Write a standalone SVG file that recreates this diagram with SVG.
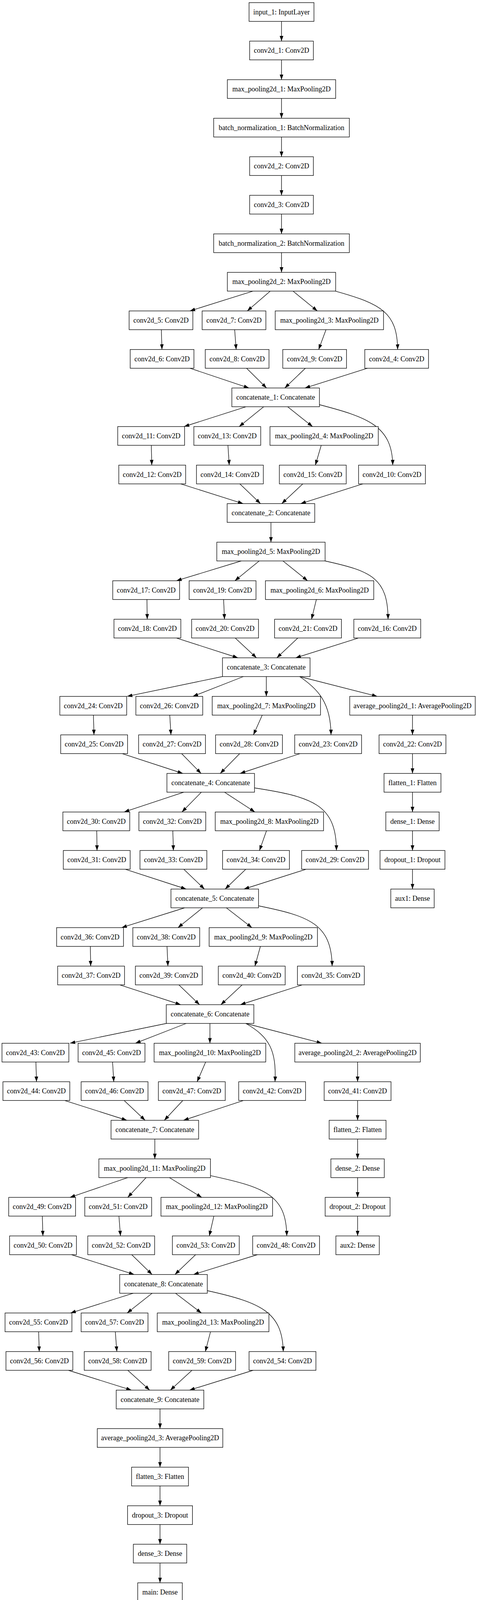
<svg xmlns="http://www.w3.org/2000/svg" width="1220" height="4107" viewBox="0 0 1220 4107">
<style>
rect.n{fill:#fff;stroke:#000;stroke-width:1.33}
text{font-family:"Liberation Serif","Times New Roman",serif;font-size:18px;fill:#000;text-anchor:middle}
#edges path{fill:none;stroke:#000;stroke-width:1.33;marker-end:url(#ah)}
</style>
<defs>
<marker id="ah" markerUnits="userSpaceOnUse" markerWidth="14" markerHeight="10" refX="13.3" refY="4.67" orient="auto"><path d="M0,0 L13.3,4.67 L0,9.33 z" fill="#000"/></marker>
</defs>
<rect x="0" y="0" width="1220" height="4107" fill="#fff"/>
<g id="edges">
<path d="M720,54.7 L720,105.3"/>
<path d="M720,153.3 L720,204"/>
<path d="M720,252 L720,302.7"/>
<path d="M720,350.7 L720,401.3"/>
<path d="M720,449.3 L720,500"/>
<path d="M720,548 L720,598.7"/>
<path d="M720,646.7 L720,697.3"/>
<path d="M646.8,745.3 L485.8,796"/>
<path d="M691.2,745.3 L632.4,796"/>
<path d="M749.4,745.3 L811.6,796"/>
<path d="M858,745.3 C975,778 1016,800 1017,894.7"/>
<path d="M412.6,844 L414.3,894.7"/>
<path d="M600.2,844 L604,894.7"/>
<path d="M833.8,844 L815,894.7"/>
<path d="M485.8,942.7 L636.8,993.3"/>
<path d="M630.7,942.7 L681.7,993.3"/>
<path d="M781,942.7 L728.4,993.3"/>
<path d="M939.8,942.7 L780,993.3"/>
<path d="M629,1041.3 L470.9,1092"/>
<path d="M674.5,1041.3 L611.8,1092"/>
<path d="M735.6,1041.3 L799.4,1092"/>
<path d="M817,1036 C940,1068 1003,1090 1004.5,1190.7"/>
<path d="M387,1140 L388.2,1190.7"/>
<path d="M583,1140 L586.3,1190.7"/>
<path d="M821.6,1140 L806.6,1190.7"/>
<path d="M462,1238.7 L621.8,1289.3"/>
<path d="M613.5,1238.7 L666.2,1289.3"/>
<path d="M774.4,1238.7 L720.6,1289.3"/>
<path d="M928.2,1238.7 L768.9,1289.3"/>
<path d="M693,1337.3 L693,1388"/>
<path d="M617,1436 L451.3,1486.7"/>
<path d="M663,1436 L600.7,1486.7"/>
<path d="M723.6,1436 L786.7,1486.7"/>
<path d="M831,1436 C950,1462 992,1480 992.5,1585.3"/>
<path d="M375.8,1534.7 L376.6,1585.3"/>
<path d="M571.9,1534.7 L574.2,1585.3"/>
<path d="M809.2,1534.7 L796.8,1585.3"/>
<path d="M451.3,1633.3 L608.5,1684"/>
<path d="M601.5,1633.3 L656,1684"/>
<path d="M761.8,1633.3 L708,1684"/>
<path d="M916.6,1633.3 L756.3,1684"/>
<path d="M568.8,1732 L325.2,1782.7"/>
<path d="M622.5,1732 L493.3,1782.7"/>
<path d="M681.2,1732 L681.2,1782.7"/>
<path d="M766.4,1732 L964.8,1782.7"/>
<path d="M766.4,1732 C815,1765 846,1800 846.6,1881.3"/>
<path d="M238.9,1830.7 L240.4,1881.3"/>
<path d="M434.2,1830.7 L437.3,1881.3"/>
<path d="M670.7,1830.7 L648.2,1881.3"/>
<path d="M1055,1830.7 L1055,1881.3"/>
<path d="M312.8,1929.3 L467.6,1980"/>
<path d="M464.5,1929.3 L514.3,1980"/>
<path d="M613.1,1929.3 L563.3,1980"/>
<path d="M767.2,1929.3 L614,1980"/>
<path d="M1055,1929.3 L1055,1980"/>
<path d="M470,2028 L317.5,2078.7"/>
<path d="M515,2028 L465.3,2078.7"/>
<path d="M574.2,2028 L652,2078.7"/>
<path d="M650.5,2017 C800,2040 860,2060 860.5,2177.3"/>
<path d="M1055,2028 L1055,2078.7"/>
<path d="M247.4,2126.7 L248.2,2177.3"/>
<path d="M442,2126.7 L443.5,2177.3"/>
<path d="M681.6,2126.7 L663.7,2177.3"/>
<path d="M1055,2126.7 L1055,2177.3"/>
<path d="M320.6,2225.3 L476.2,2276"/>
<path d="M470,2225.3 L522.9,2276"/>
<path d="M628.7,2225.3 L575.8,2276"/>
<path d="M782.8,2225.3 L624,2276"/>
<path d="M1055,2225.3 L1055,2276"/>
<path d="M472.3,2324 L311.2,2374.7"/>
<path d="M518.2,2324 L455.2,2374.7"/>
<path d="M578.9,2324 L644.3,2374.7"/>
<path d="M661.4,2319 C790,2345 848,2365 849.5,2473.3"/>
<path d="M231.1,2422.7 L231.9,2473.3"/>
<path d="M427.2,2422.7 L429.5,2473.3"/>
<path d="M666,2422.7 L652,2473.3"/>
<path d="M306.6,2521.3 L462.2,2572"/>
<path d="M457.5,2521.3 L510.4,2572"/>
<path d="M619.4,2521.3 L564.9,2572"/>
<path d="M772.7,2521.3 L614.7,2572"/>
<path d="M425.6,2620 L179,2670.7"/>
<path d="M476.2,2620 L346.3,2670.7"/>
<path d="M536.9,2620 L536.9,2670.7"/>
<path d="M628.7,2620 L823.2,2670.7"/>
<path d="M628.7,2620 C690,2655 707,2690 703.4,2769.3"/>
<path d="M91.8,2718.7 L93.4,2769.3"/>
<path d="M287.9,2718.7 L291,2769.3"/>
<path d="M526,2718.7 L504.2,2769.3"/>
<path d="M914.6,2718.7 L914.6,2769.3"/>
<path d="M165.7,2817.3 L324.5,2868"/>
<path d="M317.5,2817.3 L371.2,2868"/>
<path d="M467.6,2817.3 L420.2,2868"/>
<path d="M622.5,2817.3 L469.2,2868"/>
<path d="M914.6,2817.3 L914.6,2868"/>
<path d="M396,2916 L396,2966.7"/>
<path d="M914.6,2916 L914.6,2966.7"/>
<path d="M326.8,3014.7 L179,3065.3"/>
<path d="M373.5,3014.7 L326.8,3065.3"/>
<path d="M433.4,3014.7 L515.9,3065.3"/>
<path d="M538.4,3009.6 C680,3040 732,3060 733.5,3164"/>
<path d="M914.6,3014.7 L914.6,3065.3"/>
<path d="M108.2,3113.3 L109.7,3164"/>
<path d="M304.2,3113.3 L308.1,3164"/>
<path d="M547,3113.3 L535.3,3164"/>
<path d="M914.6,3113.3 L914.6,3164"/>
<path d="M182.9,3212 L343.1,3262.7"/>
<path d="M336.9,3212 L389,3262.7"/>
<path d="M500.3,3212 L447.4,3262.7"/>
<path d="M658.3,3212 L494.9,3262.7"/>
<path d="M340.8,3310.7 L180.5,3361.3"/>
<path d="M389,3310.7 L325.2,3361.3"/>
<path d="M449,3310.7 L515.1,3361.3"/>
<path d="M529.9,3304 C670,3335 722,3360 724.5,3460"/>
<path d="M98.8,3409.3 L100.4,3460"/>
<path d="M294.9,3409.3 L298.8,3460"/>
<path d="M538.4,3409.3 L525.2,3460"/>
<path d="M175,3508 L336.1,3558.7"/>
<path d="M326.8,3508 L382.8,3558.7"/>
<path d="M491,3508 L435.7,3558.7"/>
<path d="M647.4,3508 L484.7,3558.7"/>
<path d="M409.3,3606.7 L409.3,3657.3"/>
<path d="M409.3,3705.3 L409.3,3756"/>
<path d="M409.3,3804 L409.3,3854.7"/>
<path d="M409.3,3902.7 L409.3,3953.3"/>
<path d="M409.3,4001.3 L409.3,4052"/>
</g>
<g id="input_1"><rect class="n" x="637" y="6.7" width="166" height="48"/><text x="720" y="36.7">input_1: InputLayer</text></g>
<g id="conv2d_1"><rect class="n" x="638.5" y="105.3" width="163" height="48"/><text x="720" y="135.3">conv2d_1: Conv2D</text></g>
<g id="max_pooling2d_1"><rect class="n" x="581.5" y="204" width="277" height="48"/><text x="720" y="234">max_pooling2d_1: MaxPooling2D</text></g>
<g id="batch_normalization_1"><rect class="n" x="546.5" y="302.7" width="347" height="48"/><text x="720" y="332.7">batch_normalization_1: BatchNormalization</text></g>
<g id="conv2d_2"><rect class="n" x="638.5" y="401.3" width="163" height="48"/><text x="720" y="431.3">conv2d_2: Conv2D</text></g>
<g id="conv2d_3"><rect class="n" x="638.5" y="500" width="163" height="48"/><text x="720" y="530">conv2d_3: Conv2D</text></g>
<g id="batch_normalization_2"><rect class="n" x="546.5" y="598.7" width="347" height="48"/><text x="720" y="628.7">batch_normalization_2: BatchNormalization</text></g>
<g id="max_pooling2d_2"><rect class="n" x="581.5" y="697.3" width="277" height="48"/><text x="720" y="727.3">max_pooling2d_2: MaxPooling2D</text></g>
<g id="conv2d_5"><rect class="n" x="330.3" y="796" width="163" height="48"/><text x="411.8" y="826">conv2d_5: Conv2D</text></g>
<g id="conv2d_7"><rect class="n" x="517" y="796" width="163" height="48"/><text x="598.5" y="826">conv2d_7: Conv2D</text></g>
<g id="max_pooling2d_3"><rect class="n" x="703.9" y="796" width="277" height="48"/><text x="842.4" y="826">max_pooling2d_3: MaxPooling2D</text></g>
<g id="conv2d_6"><rect class="n" x="333" y="894.7" width="163" height="48"/><text x="414.5" y="924.7">conv2d_6: Conv2D</text></g>
<g id="conv2d_8"><rect class="n" x="525" y="894.7" width="163" height="48"/><text x="606.5" y="924.7">conv2d_8: Conv2D</text></g>
<g id="conv2d_9"><rect class="n" x="723.3" y="894.7" width="163" height="48"/><text x="804.8" y="924.7">conv2d_9: Conv2D</text></g>
<g id="conv2d_4"><rect class="n" x="933" y="894.7" width="163" height="48"/><text x="1014.5" y="924.7">conv2d_4: Conv2D</text></g>
<g id="concatenate_1"><rect class="n" x="593" y="993.3" width="224" height="48"/><text x="705" y="1023.3">concatenate_1: Concatenate</text></g>
<g id="conv2d_11"><rect class="n" x="301.1" y="1092" width="171" height="48"/><text x="386.6" y="1122">conv2d_11: Conv2D</text></g>
<g id="conv2d_13"><rect class="n" x="495.8" y="1092" width="171" height="48"/><text x="581.3" y="1122">conv2d_13: Conv2D</text></g>
<g id="max_pooling2d_4"><rect class="n" x="690.5" y="1092" width="277" height="48"/><text x="829" y="1122">max_pooling2d_4: MaxPooling2D</text></g>
<g id="conv2d_12"><rect class="n" x="303.8" y="1190.7" width="171" height="48"/><text x="389.3" y="1220.7">conv2d_12: Conv2D</text></g>
<g id="conv2d_14"><rect class="n" x="502.5" y="1190.7" width="171" height="48"/><text x="588" y="1220.7">conv2d_14: Conv2D</text></g>
<g id="conv2d_15"><rect class="n" x="714.5" y="1190.7" width="171" height="48"/><text x="800" y="1220.7">conv2d_15: Conv2D</text></g>
<g id="conv2d_10"><rect class="n" x="917.1" y="1190.7" width="171" height="48"/><text x="1002.6" y="1220.7">conv2d_10: Conv2D</text></g>
<g id="concatenate_2"><rect class="n" x="581" y="1289.3" width="224" height="48"/><text x="693" y="1319.3">concatenate_2: Concatenate</text></g>
<g id="max_pooling2d_5"><rect class="n" x="554.5" y="1388" width="277" height="48"/><text x="693" y="1418">max_pooling2d_5: MaxPooling2D</text></g>
<g id="conv2d_17"><rect class="n" x="288.4" y="1486.7" width="171" height="48"/><text x="373.9" y="1516.7">conv2d_17: Conv2D</text></g>
<g id="conv2d_19"><rect class="n" x="483.7" y="1486.7" width="171" height="48"/><text x="569.2" y="1516.7">conv2d_19: Conv2D</text></g>
<g id="max_pooling2d_6"><rect class="n" x="678.9" y="1486.7" width="277" height="48"/><text x="817.4" y="1516.7">max_pooling2d_6: MaxPooling2D</text></g>
<g id="conv2d_18"><rect class="n" x="291.5" y="1585.3" width="171" height="48"/><text x="377" y="1615.3">conv2d_18: Conv2D</text></g>
<g id="conv2d_20"><rect class="n" x="490.2" y="1585.3" width="171" height="48"/><text x="575.7" y="1615.3">conv2d_20: Conv2D</text></g>
<g id="conv2d_21"><rect class="n" x="702.3" y="1585.3" width="171" height="48"/><text x="787.8" y="1615.3">conv2d_21: Conv2D</text></g>
<g id="conv2d_16"><rect class="n" x="905" y="1585.3" width="171" height="48"/><text x="990.5" y="1615.3">conv2d_16: Conv2D</text></g>
<g id="concatenate_3"><rect class="n" x="569" y="1684" width="224" height="48"/><text x="681" y="1714">concatenate_3: Concatenate</text></g>
<g id="conv2d_24"><rect class="n" x="153" y="1782.7" width="171" height="48"/><text x="238.5" y="1812.7">conv2d_24: Conv2D</text></g>
<g id="conv2d_26"><rect class="n" x="347.5" y="1782.7" width="171" height="48"/><text x="433" y="1812.7">conv2d_26: Conv2D</text></g>
<g id="max_pooling2d_7"><rect class="n" x="542.7" y="1782.7" width="277" height="48"/><text x="681.2" y="1812.7">max_pooling2d_7: MaxPooling2D</text></g>
<g id="average_pooling2d_1"><rect class="n" x="894.5" y="1782.7" width="321" height="48"/><text x="1055" y="1812.7">average_pooling2d_1: AveragePooling2D</text></g>
<g id="conv2d_25"><rect class="n" x="155.3" y="1881.3" width="171" height="48"/><text x="240.8" y="1911.3">conv2d_25: Conv2D</text></g>
<g id="conv2d_27"><rect class="n" x="354.5" y="1881.3" width="171" height="48"/><text x="440" y="1911.3">conv2d_27: Conv2D</text></g>
<g id="conv2d_28"><rect class="n" x="551.4" y="1881.3" width="171" height="48"/><text x="636.9" y="1911.3">conv2d_28: Conv2D</text></g>
<g id="conv2d_23"><rect class="n" x="753.7" y="1881.3" width="171" height="48"/><text x="839.2" y="1911.3">conv2d_23: Conv2D</text></g>
<g id="conv2d_22"><rect class="n" x="969.5" y="1881.3" width="171" height="48"/><text x="1055" y="1911.3">conv2d_22: Conv2D</text></g>
<g id="concatenate_4"><rect class="n" x="426.9" y="1980" width="224" height="48"/><text x="538.9" y="2010">concatenate_4: Concatenate</text></g>
<g id="flatten_1"><rect class="n" x="982.25" y="1980" width="145.5" height="48"/><text x="1055" y="2010">flatten_1: Flatten</text></g>
<g id="conv2d_30"><rect class="n" x="160.8" y="2078.7" width="171" height="48"/><text x="246.3" y="2108.7">conv2d_30: Conv2D</text></g>
<g id="conv2d_32"><rect class="n" x="355.3" y="2078.7" width="171" height="48"/><text x="440.8" y="2108.7">conv2d_32: Conv2D</text></g>
<g id="max_pooling2d_8"><rect class="n" x="550.5" y="2078.7" width="277" height="48"/><text x="689" y="2108.7">max_pooling2d_8: MaxPooling2D</text></g>
<g id="dense_1"><rect class="n" x="986.75" y="2078.7" width="136.5" height="48"/><text x="1055" y="2108.7">dense_1: Dense</text></g>
<g id="conv2d_31"><rect class="n" x="161.9" y="2177.3" width="171" height="48"/><text x="247.4" y="2207.3">conv2d_31: Conv2D</text></g>
<g id="conv2d_33"><rect class="n" x="358" y="2177.3" width="171" height="48"/><text x="443.5" y="2207.3">conv2d_33: Conv2D</text></g>
<g id="conv2d_34"><rect class="n" x="569.3" y="2177.3" width="171" height="48"/><text x="654.8" y="2207.3">conv2d_34: Conv2D</text></g>
<g id="conv2d_29"><rect class="n" x="771.5" y="2177.3" width="171" height="48"/><text x="857" y="2207.3">conv2d_29: Conv2D</text></g>
<g id="dropout_1"><rect class="n" x="972" y="2177.3" width="166" height="48"/><text x="1055" y="2207.3">dropout_1: Dropout</text></g>
<g id="concatenate_5"><rect class="n" x="437.3" y="2276" width="224" height="48"/><text x="549.3" y="2306">concatenate_5: Concatenate</text></g>
<g id="aux1"><rect class="n" x="999.5" y="2276" width="111" height="48"/><text x="1055" y="2306">aux1: Dense</text></g>
<g id="conv2d_36"><rect class="n" x="144.8" y="2374.7" width="171" height="48"/><text x="230.3" y="2404.7">conv2d_36: Conv2D</text></g>
<g id="conv2d_38"><rect class="n" x="339.7" y="2374.7" width="171" height="48"/><text x="425.2" y="2404.7">conv2d_38: Conv2D</text></g>
<g id="max_pooling2d_9"><rect class="n" x="534.9" y="2374.7" width="277" height="48"/><text x="673.4" y="2404.7">max_pooling2d_9: MaxPooling2D</text></g>
<g id="conv2d_37"><rect class="n" x="147.5" y="2473.3" width="171" height="48"/><text x="233" y="2503.3">conv2d_37: Conv2D</text></g>
<g id="conv2d_39"><rect class="n" x="346.3" y="2473.3" width="171" height="48"/><text x="431.8" y="2503.3">conv2d_39: Conv2D</text></g>
<g id="conv2d_40"><rect class="n" x="558.4" y="2473.3" width="171" height="48"/><text x="643.9" y="2503.3">conv2d_40: Conv2D</text></g>
<g id="conv2d_35"><rect class="n" x="760.7" y="2473.3" width="171" height="48"/><text x="846.2" y="2503.3">conv2d_35: Conv2D</text></g>
<g id="concatenate_6"><rect class="n" x="425.3" y="2572" width="224" height="48"/><text x="537.3" y="2602">concatenate_6: Concatenate</text></g>
<g id="conv2d_43"><rect class="n" x="5.1" y="2670.7" width="171" height="48"/><text x="90.6" y="2700.7">conv2d_43: Conv2D</text></g>
<g id="conv2d_45"><rect class="n" x="199.7" y="2670.7" width="171" height="48"/><text x="285.2" y="2700.7">conv2d_45: Conv2D</text></g>
<g id="max_pooling2d_10"><rect class="n" x="394.15" y="2670.7" width="285.5" height="48"/><text x="536.9" y="2700.7">max_pooling2d_10: MaxPooling2D</text></g>
<g id="average_pooling2d_2"><rect class="n" x="754" y="2670.7" width="321" height="48"/><text x="914.5" y="2700.7">average_pooling2d_2: AveragePooling2D</text></g>
<g id="conv2d_44"><rect class="n" x="7.5" y="2769.3" width="171" height="48"/><text x="93" y="2799.3">conv2d_44: Conv2D</text></g>
<g id="conv2d_46"><rect class="n" x="207.5" y="2769.3" width="171" height="48"/><text x="293" y="2799.3">conv2d_46: Conv2D</text></g>
<g id="conv2d_47"><rect class="n" x="405.1" y="2769.3" width="171" height="48"/><text x="490.6" y="2799.3">conv2d_47: Conv2D</text></g>
<g id="conv2d_42"><rect class="n" x="610.5" y="2769.3" width="171" height="48"/><text x="696" y="2799.3">conv2d_42: Conv2D</text></g>
<g id="conv2d_41"><rect class="n" x="829.1" y="2769.3" width="171" height="48"/><text x="914.6" y="2799.3">conv2d_41: Conv2D</text></g>
<g id="concatenate_7"><rect class="n" x="284" y="2868" width="224" height="48"/><text x="396" y="2898">concatenate_7: Concatenate</text></g>
<g id="flatten_2"><rect class="n" x="841.85" y="2868" width="145.5" height="48"/><text x="914.6" y="2898">flatten_2: Flatten</text></g>
<g id="max_pooling2d_11"><rect class="n" x="252.85" y="2966.7" width="285.5" height="48"/><text x="395.6" y="2996.7">max_pooling2d_11: MaxPooling2D</text></g>
<g id="dense_2"><rect class="n" x="846.35" y="2966.7" width="136.5" height="48"/><text x="914.6" y="2996.7">dense_2: Dense</text></g>
<g id="conv2d_49"><rect class="n" x="22.3" y="3065.3" width="171" height="48"/><text x="107.8" y="3095.3">conv2d_49: Conv2D</text></g>
<g id="conv2d_51"><rect class="n" x="216.8" y="3065.3" width="171" height="48"/><text x="302.3" y="3095.3">conv2d_51: Conv2D</text></g>
<g id="max_pooling2d_12"><rect class="n" x="411.65" y="3065.3" width="285.5" height="48"/><text x="554.4" y="3095.3">max_pooling2d_12: MaxPooling2D</text></g>
<g id="dropout_2"><rect class="n" x="831.6" y="3065.3" width="166" height="48"/><text x="914.6" y="3095.3">dropout_2: Dropout</text></g>
<g id="conv2d_50"><rect class="n" x="24.5" y="3164" width="171" height="48"/><text x="110" y="3194">conv2d_50: Conv2D</text></g>
<g id="conv2d_52"><rect class="n" x="224.5" y="3164" width="171" height="48"/><text x="310" y="3194">conv2d_52: Conv2D</text></g>
<g id="conv2d_53"><rect class="n" x="440.9" y="3164" width="171" height="48"/><text x="526.4" y="3194">conv2d_53: Conv2D</text></g>
<g id="conv2d_48"><rect class="n" x="646.3" y="3164" width="171" height="48"/><text x="731.8" y="3194">conv2d_48: Conv2D</text></g>
<g id="aux2"><rect class="n" x="859.1" y="3164" width="111" height="48"/><text x="914.6" y="3194">aux2: Dense</text></g>
<g id="concatenate_8"><rect class="n" x="306.2" y="3262.7" width="224" height="48"/><text x="418.2" y="3292.7">concatenate_8: Concatenate</text></g>
<g id="conv2d_55"><rect class="n" x="12.9" y="3361.3" width="171" height="48"/><text x="98.4" y="3391.3">conv2d_55: Conv2D</text></g>
<g id="conv2d_57"><rect class="n" x="207.5" y="3361.3" width="171" height="48"/><text x="293" y="3391.3">conv2d_57: Conv2D</text></g>
<g id="max_pooling2d_13"><rect class="n" x="402.25" y="3361.3" width="285.5" height="48"/><text x="545" y="3391.3">max_pooling2d_13: MaxPooling2D</text></g>
<g id="conv2d_56"><rect class="n" x="15.3" y="3460" width="171" height="48"/><text x="100.8" y="3490">conv2d_56: Conv2D</text></g>
<g id="conv2d_58"><rect class="n" x="215.5" y="3460" width="171" height="48"/><text x="301" y="3490">conv2d_58: Conv2D</text></g>
<g id="conv2d_59"><rect class="n" x="431.5" y="3460" width="171" height="48"/><text x="517" y="3490">conv2d_59: Conv2D</text></g>
<g id="conv2d_54"><rect class="n" x="637" y="3460" width="171" height="48"/><text x="722.5" y="3490">conv2d_54: Conv2D</text></g>
<g id="concatenate_9"><rect class="n" x="297.3" y="3558.7" width="224" height="48"/><text x="409.3" y="3588.7">concatenate_9: Concatenate</text></g>
<g id="average_pooling2d_3"><rect class="n" x="248.8" y="3657.3" width="321" height="48"/><text x="409.3" y="3687.3">average_pooling2d_3: AveragePooling2D</text></g>
<g id="flatten_3"><rect class="n" x="336.55" y="3756" width="145.5" height="48"/><text x="409.3" y="3786">flatten_3: Flatten</text></g>
<g id="dropout_3"><rect class="n" x="326.3" y="3854.7" width="166" height="48"/><text x="409.3" y="3884.7">dropout_3: Dropout</text></g>
<g id="dense_3"><rect class="n" x="341.05" y="3953.3" width="136.5" height="48"/><text x="409.3" y="3983.3">dense_3: Dense</text></g>
<g id="main"><rect class="n" x="352.3" y="4052" width="114" height="48"/><text x="409.3" y="4082">main: Dense</text></g>
</svg>
